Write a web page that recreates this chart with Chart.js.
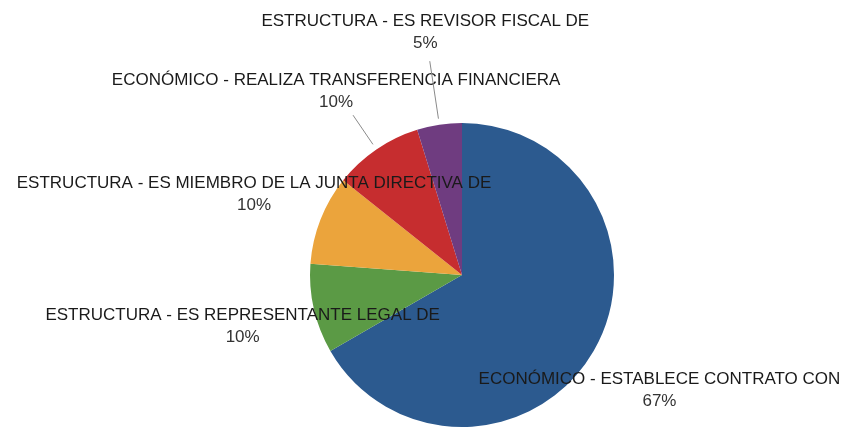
<!DOCTYPE html>
<html>
<head>
<meta charset="utf-8">
<script src="https://cdn.jsdelivr.net/npm/chart.js@4.4.1/dist/chart.umd.min.js"></script>
<style>
  html, body { margin: 0; padding: 0; background: #fff; }
  #wrap { width: 844px; height: 429px; }
</style>
</head>
<body>
<div id="wrap"><canvas id="grafico" width="844" height="429"></canvas></div>
<script>
// Datos del gráfico
const categorias = [
    'ECONÓMICO - ESTABLECE CONTRATO CON',
    'ESTRUCTURA - ES REPRESENTANTE LEGAL DE',
    'ESTRUCTURA - ES MIEMBRO DE LA JUNTA DIRECTIVA DE',
    'ECONÓMICO - REALIZA TRANSFERENCIA FINANCIERA',
    'ESTRUCTURA - ES REVISOR FISCAL DE'
];
const valores = [14, 2, 2, 2, 1];
const colores = ['#2c5a8f', '#5b9a45', '#eba43c', '#c62d2f', '#6f3c80'];

// Distancia de cada etiqueta al centro (en radios) y si lleva línea guía
const distanciaEtiqueta = [1.5, 1.48, 1.47, 1.47, 1.62];
const lineaGuia = [false, false, false, true, true];

const total = valores.reduce((a, b) => a + b, 0);

// Plugin para dibujar las etiquetas por fuera de la torta
const etiquetasExternas = {
    id: 'etiquetasExternas',
    afterDatasetsDraw(chart) {
        const ctx = chart.ctx;
        const meta = chart.getDatasetMeta(0);
        ctx.save();
        ctx.font = '17px "Liberation Sans", Arial, sans-serif';
        ctx.textAlign = 'center';
        ctx.textBaseline = 'middle';
        meta.data.forEach((arc, i) => {
            const { x, y, startAngle, endAngle, outerRadius } = arc.getProps(['x', 'y', 'startAngle', 'endAngle', 'outerRadius'], true);
            const medio = (startAngle + endAngle) / 2;
            const cos = Math.cos(medio), sin = Math.sin(medio);
            const r = outerRadius * distanciaEtiqueta[i];
            const lx = x + cos * r, ly = y + sin * r;

            if (lineaGuia[i]) {
                ctx.strokeStyle = '#8a8a8a';
                ctx.lineWidth = 1;
                ctx.beginPath();
                ctx.moveTo(x + cos * outerRadius * 1.04, y + sin * outerRadius * 1.04);
                ctx.lineTo(x + cos * (r - 30), y + sin * (r - 30));
                ctx.stroke();
            }

            const porcentaje = Math.round(valores[i] / total * 100) + '%';
            ctx.fillStyle = '#1a1a1a';
            ctx.fillText(categorias[i], lx, ly - 10);
            ctx.fillStyle = '#333';
            ctx.fillText(porcentaje, lx, ly + 12);
        });
        ctx.restore();
    }
};

const grafico = new Chart(document.getElementById('grafico').getContext('2d'), {
    type: 'pie',
    data: {
        labels: categorias,
        datasets: [{
            data: valores,
            backgroundColor: colores,
            borderWidth: 0
        }]
    },
    options: {
        responsive: false,
        animation: false,
        layout: {
            padding: { top: 123, bottom: 2, left: 100, right: 20 }
        },
        plugins: {
            legend: { display: false },
            tooltip: { enabled: false }
        }
    },
    plugins: [etiquetasExternas]
});
</script>
</body>
</html>
